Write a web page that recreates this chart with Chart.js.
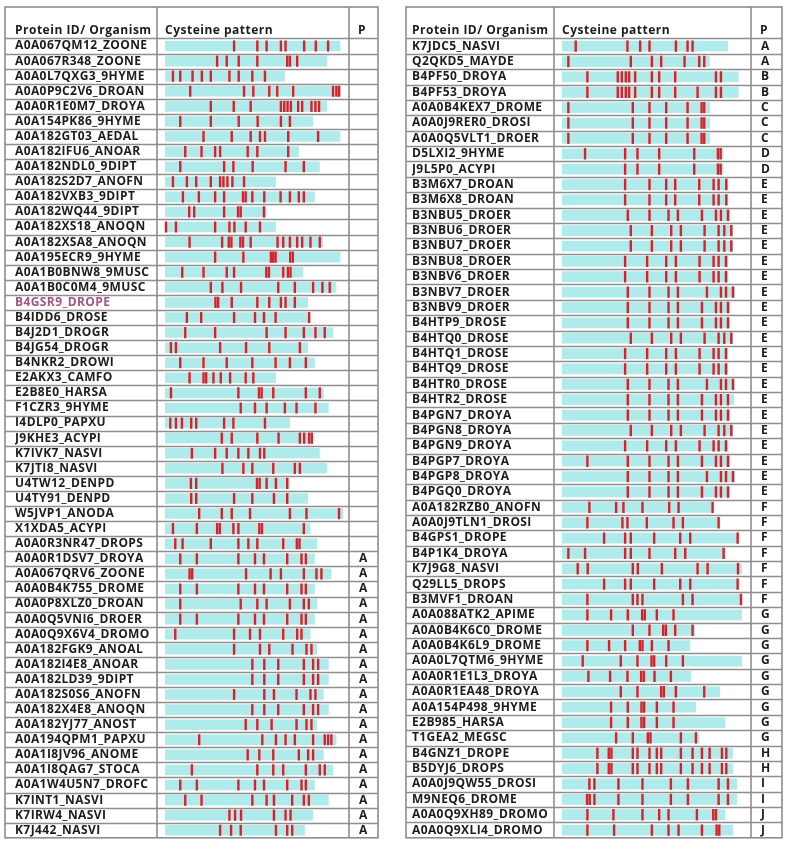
<!DOCTYPE html>
<html>
<head>
<meta charset="utf-8">
<script src="https://cdn.jsdelivr.net/npm/chart.js@4.4.1/dist/chart.umd.min.js"></script>
<style>
  body { margin: 0; background: #fff; }
  .tbl { position: absolute; top: 0; width: 394px; height: 855px; }
</style>
</head>
<body>
<div class="tbl" style="left:0"><canvas id="leftTable" width="394" height="855"></canvas></div>
<div class="tbl" style="left:394px"><canvas id="rightTable" width="394" height="855"></canvas></div>
<script>
// ---- left table ----
const leftIds = [
  'A0A067QM12_ZOONE', 'A0A067R348_ZOONE', 'A0A0L7QXG3_9HYME', 'A0A0P9C2V6_DROAN', 'A0A0R1E0M7_DROYA',
  'A0A154PK86_9HYME', 'A0A182GT03_AEDAL', 'A0A182IFU6_ANOAR', 'A0A182NDL0_9DIPT', 'A0A182S2D7_ANOFN',
  'A0A182VXB3_9DIPT', 'A0A182WQ44_9DIPT', 'A0A182XS18_ANOQN', 'A0A182XSA8_ANOQN', 'A0A195ECR9_9HYME',
  'A0A1B0BNW8_9MUSC', 'A0A1B0C0M4_9MUSC', 'B4GSR9_DROPE', 'B4IDD6_DROSE', 'B4J2D1_DROGR',
  'B4JG54_DROGR', 'B4NKR2_DROWI', 'E2AKX3_CAMFO', 'E2B8E0_HARSA', 'F1CZR3_9HYME',
  'I4DLP0_PAPXU', 'J9KHE3_ACYPI', 'K7IVK7_NASVI', 'K7JTI8_NASVI', 'U4TW12_DENPD',
  'U4TY91_DENPD', 'W5JVP1_ANODA', 'X1XDA5_ACYPI', 'A0A0R3NR47_DROPS', 'A0A0R1DSV7_DROYA',
  'A0A067QRV6_ZOONE', 'A0A0B4K755_DROME', 'A0A0P8XLZ0_DROAN', 'A0A0Q5VNI6_DROER', 'A0A0Q9X6V4_DROMO',
  'A0A182FGK9_ANOAL', 'A0A182I4E8_ANOAR', 'A0A182LD39_9DIPT', 'A0A182S0S6_ANOFN', 'A0A182X4E8_ANOQN',
  'A0A182YJ77_ANOST', 'A0A194QPM1_PAPXU', 'A0A1I8JV96_ANOME', 'A0A1I8QAG7_STOCA', 'A0A1W4U5N7_DROFC',
  'K7INT1_NASVI', 'K7IRW4_NASVI', 'K7J442_NASVI'
];
const leftP = [
  '', '', '', '', '', '', '', '', '', '', '', '', '', '', '', '', '', '', '', '',
  '', '', '', '', '', '', '', '', '', '', '', '', '', '', 'A', 'A', 'A', 'A', 'A', 'A',
  'A', 'A', 'A', 'A', 'A', 'A', 'A', 'A', 'A', 'A', 'A', 'A', 'A'
];
const leftLength = [
  528, 488, 361, 531, 488, 446, 528, 403, 466, 334,
  451, 306, 334, 476, 528, 416, 516, 431, 438, 506,
  431, 451, 334, 478, 493, 376, 446, 466, 488, 376,
  431, 536, 438, 458, 451, 501, 451, 458, 451, 438,
  458, 493, 493, 478, 493, 458, 516, 478, 506, 451,
  493, 446, 421
];
const leftCys = [
  [208, 278, 306, 349, 363, 419, 454, 491],
  [157, 186, 222, 278, 368, 376, 398],
  [24, 46, 83, 111, 138, 194, 222, 263, 301],
  [76, 238, 266, 314, 338, 386, 506, 516, 524],
  [138, 207, 258, 349, 359, 369, 379, 401, 413, 441, 453, 464],
  [46, 138, 222, 279, 349, 376],
  [116, 201, 258, 286, 301, 371, 461],
  [61, 110, 151, 166, 249, 278, 371],
  [46, 178, 206, 264, 363, 418],
  [24, 66, 94, 138, 166, 176, 188, 203, 238],
  [54, 102, 151, 178, 235, 243, 263, 299, 348, 376, 403, 418],
  [73, 88, 178, 220, 228, 298],
  [3, 33, 151, 194, 209, 243, 286],
  [74, 172, 192, 200, 227, 235, 258, 339, 356, 376, 398, 413, 438, 466],
  [151, 236, 319, 326, 333, 377, 385],
  [52, 116, 186, 208, 305, 313, 356, 370, 378],
  [138, 173, 229, 341, 391, 446, 474, 496],
  [152, 160, 201, 278, 314, 349, 363, 391],
  [66, 109, 208, 271, 298, 333, 434],
  [61, 151, 306, 363, 418, 453, 481],
  [18, 33, 166, 244, 314, 406],
  [46, 116, 186, 263, 333, 376, 424],
  [74, 116, 124, 146, 168, 196, 243, 266],
  [18, 221, 283, 291, 326, 424, 466],
  [228, 271, 306, 361, 396, 453],
  [16, 33, 51, 79, 94, 178, 206, 301],
  [171, 201, 278, 342, 406, 419, 434, 442],
  [81, 151, 186, 221, 251, 286, 299],
  [173, 236, 263, 326, 391, 406],
  [78, 94, 277, 285, 306, 334, 368],
  [79, 94, 208, 263, 328, 368],
  [103, 171, 201, 256, 376, 426, 524],
  [24, 96, 157, 165, 206, 221, 284, 292, 418],
  [31, 53, 138, 221, 251, 278, 356, 397, 405],
  [46, 96, 221, 271, 298, 368, 411, 424],
  [74, 82, 244, 318, 349, 418, 456, 471],
  [46, 96, 221, 271, 298, 368, 411, 424],
  [46, 228, 278, 306, 376, 418, 433],
  [46, 96, 221, 271, 298, 368, 411, 424],
  [31, 208, 256, 286, 356, 398, 411],
  [208, 286, 314, 384, 426, 441],
  [263, 299, 341, 418, 446, 461],
  [263, 299, 341, 418, 446, 461],
  [208, 299, 328, 396, 438, 453],
  [263, 299, 341, 418, 446, 461],
  [243, 278, 321, 396, 426, 441],
  [103, 293, 334, 363, 391, 446, 481, 491, 501],
  [249, 284, 326, 403, 431, 446],
  [81, 278, 326, 356, 424, 466, 481],
  [46, 96, 221, 271, 298, 368, 411, 424],
  [61, 110, 263, 306, 328, 383, 418, 433],
  [194, 211, 229, 328, 363, 378],
  [166, 199, 228, 334, 368, 383]
];
const highlighted = ['B4GSR9_DROPE'];

// ---- right table ----
const rightIds = [
  'K7JDC5_NASVI', 'Q2QKD5_MAYDE', 'B4PF50_DROYA', 'B4PF53_DROYA', 'A0A0B4KEX7_DROME',
  'A0A0J9RER0_DROSI', 'A0A0Q5VLT1_DROER', 'D5LXI2_9HYME', 'J9L5P0_ACYPI', 'B3M6X7_DROAN',
  'B3M6X8_DROAN', 'B3NBU5_DROER', 'B3NBU6_DROER', 'B3NBU7_DROER', 'B3NBU8_DROER',
  'B3NBV6_DROER', 'B3NBV7_DROER', 'B3NBV9_DROER', 'B4HTP9_DROSE', 'B4HTQ0_DROSE',
  'B4HTQ1_DROSE', 'B4HTQ9_DROSE', 'B4HTR0_DROSE', 'B4HTR2_DROSE', 'B4PGN7_DROYA',
  'B4PGN8_DROYA', 'B4PGN9_DROYA', 'B4PGP7_DROYA', 'B4PGP8_DROYA', 'B4PGQ0_DROYA',
  'A0A182RZB0_ANOFN', 'A0A0J9TLN1_DROSI', 'B4GPS1_DROPE', 'B4P1K4_DROYA', 'K7J9G8_NASVI',
  'Q29LL5_DROPS', 'B3MVF1_DROAN', 'A0A088ATK2_APIME', 'A0A0B4K6C0_DROME', 'A0A0B4K6L9_DROME',
  'A0A0L7QTM6_9HYME', 'A0A0R1E1L3_DROYA', 'A0A0R1EA48_DROYA', 'A0A154P498_9HYME', 'E2B985_HARSA',
  'T1GEA2_MEGSC', 'B4GNZ1_DROPE', 'B5DYJ6_DROPS', 'A0A0J9QW55_DROSI', 'M9NEQ6_DROME',
  'A0A0Q9XH89_DROMO', 'A0A0Q9XLI4_DROMO'
];
const rightP = [
  'A', 'A', 'B', 'B', 'C', 'C', 'C', 'D', 'D', 'E',
  'E', 'E', 'E', 'E', 'E', 'E', 'E', 'E', 'E', 'E',
  'E', 'E', 'E', 'E', 'E', 'E', 'E', 'E', 'E', 'E',
  'F', 'F', 'F', 'F', 'F', 'F', 'F', 'G', 'G', 'G',
  'G', 'G', 'G', 'G', 'G', 'G', 'H', 'H', 'I', 'I',
  'J', 'J'
];
const rightLength = [
  497, 442, 529, 529, 444, 444, 444, 484, 484, 497,
  497, 504, 512, 512, 497, 497, 519, 504, 504, 512,
  497, 497, 519, 516, 504, 512, 497, 504, 519, 504,
  454, 469, 529, 489, 539, 529, 539, 539, 399, 384,
  539, 387, 474, 401, 489, 411, 512, 512, 524, 524,
  489, 512
];
const rightCys = [
  [41, 196, 234, 262, 341, 376, 391],
  [19, 206, 269, 297, 367, 411, 426],
  [76, 167, 179, 191, 201, 219, 269, 291, 339, 461, 476],
  [76, 167, 179, 191, 201, 219, 269, 291, 339, 406, 461, 476],
  [19, 212, 262, 312, 376, 418, 426],
  [19, 212, 262, 312, 376, 418, 426],
  [19, 212, 262, 312, 376, 418, 426],
  [69, 189, 226, 291, 396, 467, 475],
  [189, 226, 291, 396, 467, 475],
  [189, 262, 312, 339, 411, 454, 469, 492],
  [189, 262, 312, 339, 411, 454, 469, 492],
  [197, 262, 319, 347, 419, 461, 476, 497],
  [206, 269, 327, 356, 427, 469, 486, 507],
  [206, 269, 327, 356, 427, 469, 486, 507],
  [189, 255, 312, 341, 412, 454, 469, 491],
  [189, 255, 312, 341, 412, 454, 469, 491],
  [197, 262, 319, 347, 434, 476, 491, 512],
  [197, 262, 319, 347, 419, 461, 476, 497],
  [197, 262, 319, 347, 419, 461, 476, 497],
  [206, 269, 327, 356, 427, 469, 486, 507],
  [189, 255, 312, 341, 412, 454, 469, 491],
  [189, 255, 312, 341, 412, 454, 469, 491],
  [197, 262, 319, 347, 434, 476, 491, 512],
  [197, 262, 319, 347, 419, 461, 476, 497],
  [197, 262, 319, 347, 419, 461, 476, 497],
  [206, 269, 327, 356, 427, 469, 486, 507],
  [189, 255, 312, 341, 412, 454, 469, 491],
  [76, 197, 262, 319, 347, 419, 461, 476, 497],
  [197, 262, 319, 347, 434, 476, 491, 512],
  [197, 262, 319, 347, 419, 461, 476, 497],
  [82, 162, 184, 241, 321, 349, 451],
  [76, 181, 196, 254, 334, 362, 469],
  [126, 189, 206, 276, 354, 384, 526],
  [19, 69, 189, 206, 262, 339, 369, 484],
  [47, 77, 212, 227, 299, 406, 436, 527],
  [126, 189, 206, 276, 354, 384, 526],
  [76, 212, 226, 241, 362, 391, 536],
  [76, 147, 197, 240, 248, 284, 334],
  [212, 262, 303, 311, 339, 391],
  [76, 141, 189, 233, 241, 269, 319],
  [62, 176, 226, 268, 276, 312, 362],
  [79, 144, 196, 237, 245, 277, 326],
  [176, 226, 297, 305, 341, 426],
  [147, 197, 238, 246, 284, 334],
  [147, 197, 238, 246, 284, 334],
  [162, 212, 257, 265, 356, 401],
  [106, 140, 148, 212, 226, 262, 284, 297, 356, 391, 419, 442, 479, 492],
  [106, 140, 148, 212, 226, 262, 284, 297, 356, 391, 419, 442, 479, 492],
  [82, 97, 169, 241, 326, 377, 469, 497],
  [75, 83, 97, 169, 241, 326, 377, 469, 497],
  [76, 154, 241, 291, 319, 404, 453, 461],
  [76, 156, 269, 319, 349, 419, 463, 471]
];

const CYAN = '#b0ebeb';
const RED = '#dc1f28';
const LINE = '#8e8e8e';
const TEXT = '#1c1c1c';
const MARK_HALF = 3.6;
const FONT = { family: '"Open Sans"', size: 12, weight: 'bold' };

// draws the table frame, row rules and the header line
const tableFrame = {
  id: 'tableFrame',
  beforeDraw(chart) {
    // the source table is set a little looser than Open Sans
    chart.ctx.letterSpacing = '0.4px';
  },
  afterDraw(chart, args, opts) {
    const { ctx, chartArea: a, scales: { y } } = chart;
    const step = y.getPixelForValue(1) - y.getPixelForValue(0);
    const line = (x1, y1, x2, y2) => {
      ctx.beginPath(); ctx.moveTo(x1, y1); ctx.lineTo(x2, y2); ctx.stroke();
    };
    ctx.save();
    ctx.strokeStyle = LINE;
    ctx.lineWidth = 1.3;
    for (let i = 1; i < y.getLabels().length; i++) {
      const yy = Math.round(y.getPixelForValue(i) - step / 2) + 0.5;
      line(opts.left, yy, opts.right, yy);
    }
    ctx.lineWidth = 1.6;
    line(opts.left, a.top, opts.right, a.top);
    line(a.left, opts.top, a.left, a.bottom);
    line(a.right, opts.top, a.right, a.bottom);
    ctx.strokeRect(opts.left, opts.top, opts.right - opts.left, a.bottom - opts.top);

    ctx.fillStyle = TEXT;
    ctx.font = 'bold 12px "Open Sans"';
    ctx.letterSpacing = '0.5px';
    ctx.textBaseline = 'alphabetic';
    const base = a.top - 5;
    ctx.fillText('Protein ID/ Organism', y.left, base);
    ctx.fillText('Cysteine pattern', a.left + 8, base);
    ctx.fillText('P', a.right + 9, base);
    ctx.restore();
  }
};

function makeTable(canvasId, ids, groups, lengths, cys, xMax, frame, pad, idWidth, pWidth) {
  const marks = cys.flatMap((list, i) =>
    list.map(p => ({ y: ids[i], x: [p - MARK_HALF, p + MARK_HALF] })));
  return new Chart(document.getElementById(canvasId), {
    type: 'bar',
    data: {
      labels: ids,
      datasets: [
        {
          label: 'Cys',
          data: marks,
          backgroundColor: RED,
          grouped: false,
          categoryPercentage: 1,
          barPercentage: 0.74
        },
        {
          label: 'Sequence',
          data: lengths.map(len => [0, len]),
          backgroundColor: CYAN,
          grouped: false,
          categoryPercentage: 1,
          barPercentage: 0.7
        }
      ]
    },
    options: {
      indexAxis: 'y',
      responsive: false,
      animation: false,
      layout: { padding: pad },
      plugins: {
        legend: { display: false },
        tooltip: { enabled: false },
        tableFrame: frame
      },
      scales: {
        x: { display: false, min: -24, max: xMax },
        y: {
          type: 'category',
          offset: true,
          grid: { display: false, drawTicks: false },
          border: { display: false },
          ticks: {
            autoSkip: false,
            crossAlign: 'far',
            padding: 0,
            font: FONT,
            color: c => highlighted.includes(ids[c.index]) ? '#a05688' : TEXT
          },
          afterFit: s => { s.width = idWidth; }
        },
        p: {
          type: 'category',
          position: 'right',
          labels: groups,
          offset: true,
          grid: { display: false, drawTicks: false },
          border: { display: false },
          ticks: {
            autoSkip: false,
            padding: 10,
            font: FONT,
            color: TEXT
          },
          afterFit: s => { s.width = pWidth; }
        }
      }
    },
    plugins: [tableFrame]
  });
}

makeTable('leftTable', leftIds, leftP, leftLength, leftCys, 554,
  { left: 5, right: 378, top: 7 },
  { left: 15, right: 16, top: 38.5, bottom: 7 }, 142, 29);

makeTable('rightTable', rightIds, rightP, rightLength, rightCys, 566,
  { left: 12, right: 388, top: 7 },
  { left: 18, right: 6, top: 38.5, bottom: 7 }, 142, 31);
</script>
</body>
</html>
